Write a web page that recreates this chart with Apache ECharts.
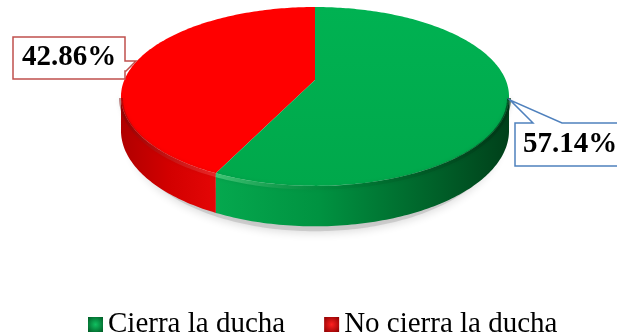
<!DOCTYPE html>
<html>
<head>
<meta charset="utf-8">
<script src="https://cdn.jsdelivr.net/npm/echarts@6/dist/echarts.min.js"></script>
<style>
  html, body { margin: 0; padding: 0; background: #fff; }
  #chart { width: 617px; height: 336px; }
</style>
</head>
<body>
<div id="chart"></div>
<script>
// Categories and shares (%)
const categories = ['Cierra la ducha', 'No cierra la ducha'];
const values = [57.14, 42.86];

// Tilted-disc geometry (simple perspective)
const CX = 315, CY = 80;      // disc centre on screen
const RX = 190.7, RY = 86.4;  // radii before perspective
const P = 0.184;              // perspective strength (near side larger)
const H = 33;                 // wall thickness
const TAU = Math.PI * 2;

function proj(t, z, k) {
  const f = k || 1;
  const u = Math.sin(t), v = -Math.cos(t);
  const s = 1 / (1 - P * v);
  return [CX + RX * f * u * s, CY + (RY * v + z) * s];
}
function arc(a0, a1, z, k) {
  const pts = [];
  const n = Math.max(2, Math.ceil((a1 - a0) / (Math.PI / 180)));
  for (let i = 0; i <= n; i++) pts.push(proj(a0 + (a1 - a0) * i / n, z, k));
  return pts;
}
function sliceAngles(i) {
  const total = values.reduce((a, b) => a + b, 0);
  let start = 0;
  for (let k = 0; k < i; k++) start += values[k] / total * TAU;
  return [start, start + values[i] / total * TAU];
}
// silhouette limits of the visible front wall
const T_A = Math.acos(-P), T_B = TAU - T_A;

const palette = [
  {
    top: { type: 'linear', x: 0, y: 0, x2: 0, y2: 1, colorStops: [
      { offset: 0, color: '#00b252' }, { offset: 1, color: '#00a84b' }] },
    wall: { type: 'linear', x: 0, y: 0, x2: 1, y2: 0, colorStops: [
      { offset: 0, color: '#05a84e' }, { offset: 0.35, color: '#009341' },
      { offset: 0.7, color: '#00672c' }, { offset: 1, color: '#00401a' }] },
    rim: { type: 'linear', x: 0, y: 0, x2: 1, y2: 0, colorStops: [
      { offset: 0, color: 'rgba(110,225,150,0.6)' }, { offset: 0.4, color: 'rgba(0,120,50,0.25)' },
      { offset: 1, color: 'rgba(0,50,20,0.7)' }] },
    legend: { type: 'radial', x: 0.5, y: 0.5, r: 0.7, colorStops: [
      { offset: 0, color: '#10c060' }, { offset: 1, color: '#005a25' }] },
    border: '#4f81bd'
  },
  {
    top: '#ff0000',
    wall: { type: 'linear', x: 0, y: 0, x2: 1, y2: 0, colorStops: [
      { offset: 0, color: '#b00000' }, { offset: 0.5, color: '#d20000' },
      { offset: 1, color: '#e40606' }] },
    rim: { type: 'linear', x: 0, y: 0, x2: 1, y2: 0, colorStops: [
      { offset: 0, color: 'rgba(120,0,0,0.45)' }, { offset: 1, color: 'rgba(255,90,90,0.4)' }] },
    legend: { type: 'radial', x: 0.5, y: 0.5, r: 0.7, colorStops: [
      { offset: 0, color: '#ff2020' }, { offset: 1, color: '#8a0000' }] },
    border: '#c0504d'
  }
];

// Callout boxes: outline points and text anchor per slice
const callouts = [
  { pts: [[515,123],[533,123],[510,100],[562,123],[640,123],[640,166],[515,166]], tx: 523, ty: 145 },
  { pts: [[13,37],[125,37],[125,61],[136,61],[126,71],[125,71],[125,79],[13,79]], tx: 22, ty: 58 }
];

function renderSlice(params, api) {
  const i = params.seriesIndex - 1;
  const [a0, a1] = sliceAngles(i);
  const pal = palette[i];
  const children = [];

  const w0 = Math.max(a0, T_A), w1 = Math.min(a1, T_B);
  if (w1 > w0) {
    const topEdge = arc(w0, w1, 0);
    const botEdge = arc(w0, w1, H).reverse();
    children.push({ type: 'polygon', shape: { points: topEdge.concat(botEdge) },
      style: { fill: pal.wall } });
  }
  children.push({ type: 'polygon',
    shape: { points: [[CX, CY]].concat(arc(a0, a1, 0)) },
    style: { fill: pal.top } });
  if (w1 > w0) {
    children.push({ type: 'polyline', shape: { points: arc(w0, w1, 1.5) },
      style: { fill: null, stroke: pal.rim, lineWidth: 4, shadowBlur: 4, shadowColor: 'rgba(0,0,0,0.15)' } });
  }

  const c = callouts[i];
  children.push({ type: 'polygon', shape: { points: c.pts },
    style: { fill: '#fff', stroke: pal.border, lineWidth: 1.5 } });
  children.push({ type: 'text',
    style: { text: values[i].toFixed(2) + '%', x: c.tx, y: c.ty,
      textAlign: 'left', textVerticalAlign: 'middle',
      font: 'bold 29px "Liberation Serif", "Times New Roman", serif', fill: '#000' } });
  return { type: 'group', children };
}

// soft drop shadow under the disc
function renderShadow() {
  const pts = arc(T_A, T_B, H + 4, 0.96).concat(arc(T_A, T_B, H - 20, 0.96).reverse());
  return { type: 'polygon', shape: { points: pts },
    style: { fill: 'rgba(170,170,170,0.45)', shadowBlur: 9, shadowOffsetY: 2, shadowColor: 'rgba(0,0,0,0.3)' } };
}

const chart = echarts.init(document.getElementById('chart'), null, { renderer: 'canvas' });
const series = [{
  type: 'custom', name: 'sombra', coordinateSystem: 'none', z: 1, silent: true,
  data: [0], renderItem: renderShadow
}];
categories.forEach((name, i) => {
  series.push({
    type: 'custom', name, coordinateSystem: 'none', z: i === 0 ? 3 : 2,
    itemStyle: { color: palette[i].legend },
    data: [values[i]], renderItem: renderSlice
  });
});

chart.setOption({
  animation: false,
  backgroundColor: '#fff',
  legend: {
    data: categories,
    left: 83, top: 305,
    itemWidth: 15, itemHeight: 15, itemGap: 39,
    icon: 'rect',
    textStyle: { fontFamily: '"Liberation Serif", "Times New Roman", serif', fontSize: 29, color: '#000' }
  },
  series
});
</script>
</body>
</html>
